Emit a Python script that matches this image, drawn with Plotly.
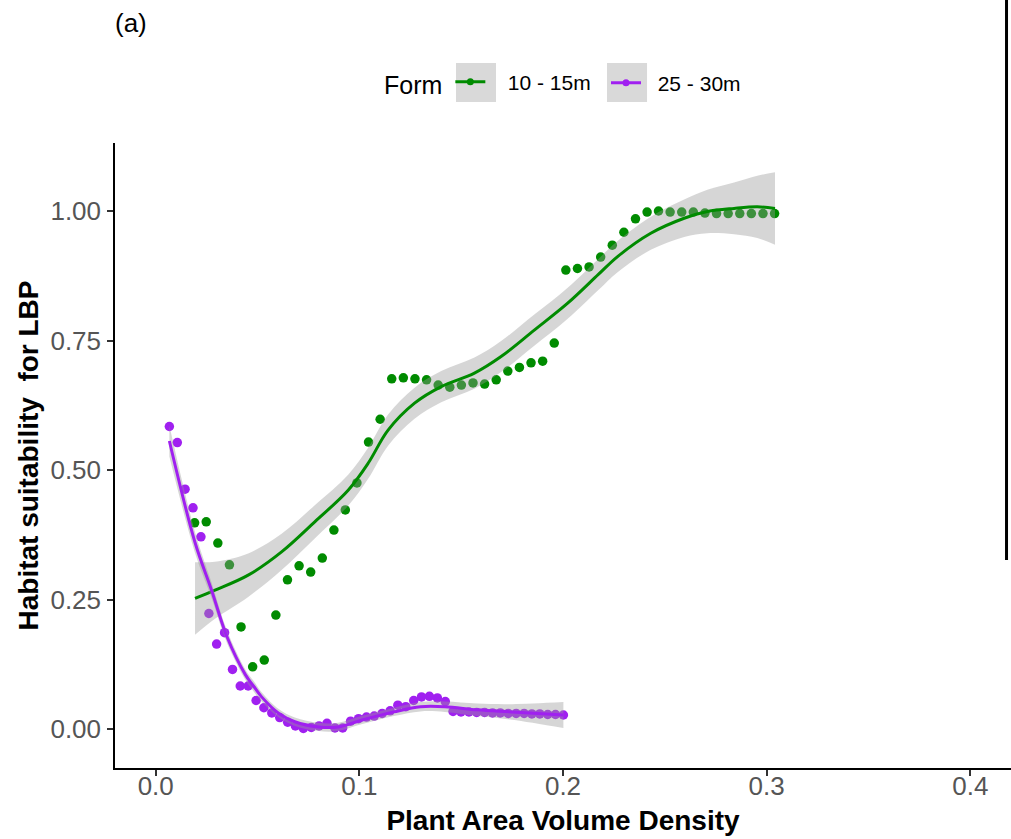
import plotly.graph_objects as go

# ---------------- data ----------------
green_x = [0.0191, 0.0248, 0.0305, 0.0362, 0.0419, 0.0476, 0.0533, 0.0590, 0.0647, 0.0704,
           0.0761, 0.0818, 0.0875, 0.0931, 0.0988, 0.1045, 0.1102, 0.1159, 0.1216, 0.1273,
           0.1330, 0.1387, 0.1444, 0.1501, 0.1558, 0.1615, 0.1672, 0.1729, 0.1786, 0.1843,
           0.1900, 0.1957, 0.2014, 0.2071, 0.2128, 0.2185, 0.2242, 0.2299, 0.2356, 0.2413,
           0.2469, 0.2526, 0.2583, 0.2640, 0.2697, 0.2754, 0.2811, 0.2868, 0.2925, 0.2982,
           0.3039]
green_y = [0.398, 0.400, 0.359, 0.317, 0.197, 0.120, 0.133, 0.220, 0.288, 0.315,
           0.303, 0.330, 0.384, 0.423, 0.475, 0.554, 0.598, 0.676, 0.678, 0.676,
           0.674, 0.664, 0.660, 0.664, 0.668, 0.666, 0.674, 0.691, 0.698, 0.707,
           0.710, 0.745, 0.886, 0.889, 0.892, 0.911, 0.934, 0.959, 0.985, 0.998,
           1.000, 0.998, 0.998, 0.998, 0.996, 0.995, 0.995, 0.995, 0.995, 0.995,
           0.995]

purple_x = [0.0067, 0.0106, 0.0144, 0.0183, 0.0222, 0.0261, 0.0299, 0.0338, 0.0377, 0.0415,
            0.0454, 0.0493, 0.0531, 0.0570, 0.0609, 0.0648, 0.0686, 0.0725, 0.0764, 0.0802,
            0.0841, 0.0880, 0.0918, 0.0957, 0.0996, 0.1035, 0.1073, 0.1112, 0.1151, 0.1189,
            0.1228, 0.1267, 0.1305, 0.1344, 0.1383, 0.1422, 0.1460, 0.1499, 0.1538, 0.1576,
            0.1615, 0.1654, 0.1692, 0.1731, 0.1770, 0.1809, 0.1847, 0.1886, 0.1925, 0.1963,
            0.2002]
purple_y = [0.584, 0.553, 0.463, 0.427, 0.371, 0.223, 0.164, 0.186, 0.115, 0.083,
            0.083, 0.055, 0.041, 0.031, 0.022, 0.013, 0.006, 0.001, 0.003, 0.006,
            0.011, 0.002, 0.002, 0.015, 0.020, 0.023, 0.025, 0.030, 0.035, 0.046,
            0.043, 0.055, 0.062, 0.063, 0.060, 0.053, 0.034, 0.033, 0.033, 0.032,
            0.032, 0.031, 0.031, 0.030, 0.030, 0.030, 0.029, 0.029, 0.028, 0.028,
            0.027]

# smoothed curves and their confidence bands
green_fit_x = [0.0193, 0.0291, 0.0454, 0.0618, 0.0781, 0.0945, 0.1043, 0.1141, 0.1271, 0.1402,
               0.1565, 0.1696, 0.1859, 0.2023, 0.2175, 0.2268, 0.2431, 0.2595, 0.2709, 0.2840,
               0.2954, 0.3041]
green_fit_y = [0.252, 0.268, 0.297, 0.342, 0.400, 0.461, 0.513, 0.577, 0.629, 0.661,
               0.687, 0.719, 0.770, 0.822, 0.878, 0.912, 0.957, 0.986, 0.999, 1.005,
               1.008, 1.005]
green_fit_lo = [0.182, 0.213, 0.255, 0.307, 0.368, 0.431, 0.483, 0.547, 0.599, 0.631,
                0.657, 0.689, 0.740, 0.792, 0.848, 0.882, 0.925, 0.950, 0.957, 0.955,
                0.948, 0.935]
green_fit_hi = [0.322, 0.323, 0.339, 0.377, 0.432, 0.491, 0.543, 0.607, 0.659, 0.691,
                0.717, 0.749, 0.800, 0.852, 0.908, 0.942, 0.989, 1.022, 1.041, 1.055,
                1.068, 1.075]

purple_fit_x = [0.0067, 0.0193, 0.0275, 0.0350, 0.0440, 0.0480, 0.0520, 0.0605, 0.0683, 0.0800,
                0.0896, 0.1010, 0.1170, 0.1300, 0.1420, 0.1580, 0.1750, 0.2002]
purple_fit_y = [0.556, 0.360, 0.267, 0.178, 0.105, 0.083, 0.062, 0.030, 0.014, 0.004,
                0.004, 0.017, 0.033, 0.043, 0.043, 0.037, 0.033, 0.027]
purple_fit_lo = [0.526, 0.340, 0.252, 0.166, 0.095, 0.073, 0.053, 0.022, 0.006, -0.004,
                 -0.004, 0.009, 0.025, 0.034, 0.033, 0.025, 0.018, 0.002]
purple_fit_hi = [0.586, 0.380, 0.282, 0.190, 0.115, 0.093, 0.071, 0.038, 0.022, 0.012,
                 0.012, 0.025, 0.041, 0.052, 0.053, 0.049, 0.048, 0.052]

series_names = ["10 - 15m", "25 - 30m"]
x_ticks = [0.0, 0.1, 0.2, 0.3, 0.4]
x_ticktext = ["0.0", "0.1", "0.2", "0.3", "0.4"]
y_ticks = [0.0, 0.25, 0.5, 0.75, 1.0]
y_ticktext = ["0.00", "0.25", "0.50", "0.75", "1.00"]

# ---------------- styles ----------------
GREEN = "#008B00"
PURPLE = "#A020F0"
BAND = "rgba(153,153,153,0.4)"
FONT = "Liberation Sans, Arial, sans-serif"

fig = go.Figure()

# points
fig.add_trace(go.Scatter(x=green_x, y=green_y, mode="markers",
                         marker=dict(color=GREEN, size=9.5), showlegend=False))
fig.add_trace(go.Scatter(x=purple_x, y=purple_y, mode="markers",
                         marker=dict(color=PURPLE, size=9.5), showlegend=False))

# smooth bands + lines
for fx, fy, lo, hi, col in [
    (green_fit_x, green_fit_y, green_fit_lo, green_fit_hi, GREEN),
    (purple_fit_x, purple_fit_y, purple_fit_lo, purple_fit_hi, PURPLE),
]:
    fig.add_trace(go.Scatter(x=fx, y=lo, mode="lines", line=dict(width=0, shape="spline"),
                             showlegend=False, hoverinfo="skip"))
    fig.add_trace(go.Scatter(x=fx, y=hi, mode="lines", line=dict(width=0, shape="spline"),
                             fill="tonexty", fillcolor=BAND, showlegend=False, hoverinfo="skip"))
    fig.add_trace(go.Scatter(x=fx, y=fy, mode="lines",
                             line=dict(color=col, width=3, shape="spline"), showlegend=False))

# legend entries
fig.add_trace(go.Scatter(x=[None], y=[None], mode="lines+markers",
                         name="\u00a0\u00a0\u00a0" + series_names[0],
                         line=dict(color=GREEN, width=3), marker=dict(color=GREEN, size=7),
                         legend="legend"))
fig.add_trace(go.Scatter(x=[None], y=[None], mode="lines+markers",
                         name="\u00a0\u00a0" + series_names[1],
                         line=dict(color=PURPLE, width=3), marker=dict(color=PURPLE, size=7),
                         legend="legend2"))

axis_common = dict(showline=True, linecolor="black", linewidth=1.5, showgrid=False,
                   zeroline=False, ticks="outside", ticklen=6, tickwidth=1.5,
                   tickcolor="#333333",
                   tickfont=dict(family=FONT, size=26, color="#555555"))

fig.update_layout(
    width=1011, height=839, autosize=False,
    margin=dict(l=115, r=0, t=143, b=71),
    paper_bgcolor="white", plot_bgcolor="white",
    font=dict(family=FONT, color="black"),
    xaxis=dict(range=[-0.02, 0.42], tickvals=x_ticks, ticktext=x_ticktext,
               ticklabelstandoff=-12,
               title=dict(text="Plant Area Volume Density",
                          font=dict(family=FONT, size=28, color="black", weight="bold"),
                          standoff=10),
               **axis_common),
    yaxis=dict(range=[-0.0753, 1.1313], tickvals=y_ticks, ticktext=y_ticktext,
               ticklabelstandoff=1,
               title=dict(text="Habitat suitability\u00a0 for LBP",
                          font=dict(family=FONT, size=28, color="black", weight="bold"),
                          standoff=4),
               **axis_common),
    legend=dict(orientation="h", x=0.298, xanchor="left", y=1.096, yanchor="middle",
                bgcolor="rgba(0,0,0,0)",
                title=dict(text="Form", font=dict(family=FONT, size=25, color="black")),
                font=dict(family=FONT, size=21, color="black")),
    legend2=dict(orientation="h", x=0.548, xanchor="left", y=1.096, yanchor="middle",
                 bgcolor="rgba(0,0,0,0)",
                 font=dict(family=FONT, size=21, color="black")),
    annotations=[dict(text="(a)", x=-0.0022, y=1.192, xref="paper", yref="paper",
                      xanchor="left", yanchor="middle", showarrow=False,
                      font=dict(family=FONT, size=26, color="black"))],
    shapes=[
        dict(type="rect", xref="paper", yref="paper", x0=0.3806, x1=0.4252, y0=1.0656, y1=1.128,
             fillcolor="#D9D9D9", line=dict(width=0), layer="below"),
        dict(type="rect", xref="paper", yref="paper", x0=0.5491, x1=0.5938, y0=1.0656, y1=1.128,
             fillcolor="#D9D9D9", line=dict(width=0), layer="below"),
        dict(type="line", xref="paper", yref="paper", x0=0.995, x1=0.995, y0=0.3328, y1=1.2288,
             line=dict(color="black", width=3)),
    ],
)

fig.write_html("out.html")
